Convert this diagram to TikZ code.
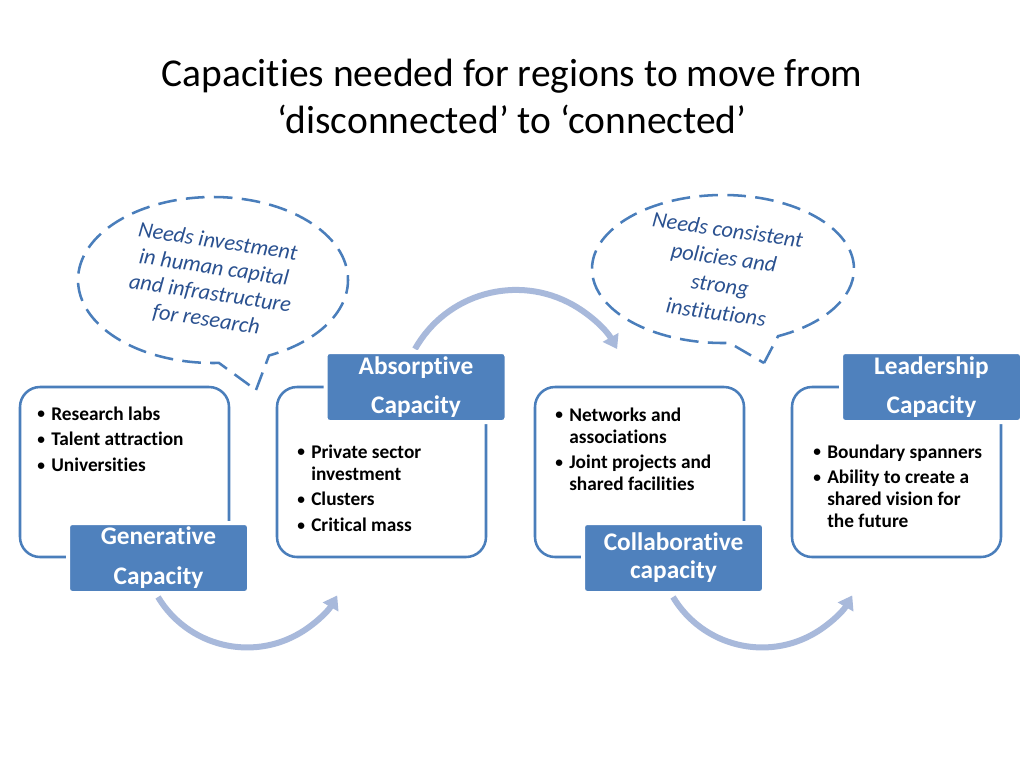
\documentclass[tikz,border=0pt]{standalone}
\usepackage{fontspec}
\setmainfont{Carlito}[Ligatures={NoCommon,NoContextual}]
\usetikzlibrary{shapes.callouts,arrows.meta}
\definecolor{accent}{HTML}{4F81BD}
\definecolor{boxline}{HTML}{4A7EBB}
\definecolor{arrowc}{HTML}{A8B9DB}
\definecolor{calltext}{HTML}{2A5190}
\newcommand\bl{\makebox[10.5pt][l]{\raisebox{0.9pt}{\fontsize{11.5}{11.5}\selectfont\textbullet}}}
\newcommand\ind{\hspace*{10.5pt}}
\begin{document}
\begin{tikzpicture}[x=0.75pt,y=-0.75pt,
  capbox/.style={draw=boxline, line width=1.9pt, rounded corners=15pt,
    minimum width=156.75pt, minimum height=127.5pt, inner sep=0pt},
  caplabel/.style={fill=accent, draw=white, line width=3pt, rounded corners=3pt,
    minimum width=135.75pt, minimum height=52.5pt, inner sep=0pt, text=white,
    align=center},
  listtext/.style={font=\bfseries\fontsize{14.5}{16.5}\selectfont, inner sep=0pt, anchor=base west},
  flow/.style={draw=arrowc, line width=4.5pt, -{Triangle[length=10pt,width=13pt]}},
  bubble/.style={ellipse callout, draw=boxline, line width=1.9pt, dash pattern=on 14pt off 7pt,
    callout pointer arc=22, inner sep=0pt},
  calltxt/.style={text=calltext, align=center, inner sep=0pt},
]
\useasboundingbox[fill=white] (0,0) rectangle (1024,768);

% title
\node[font=\fontsize{29.6}{35.25}\selectfont, align=center] (title) at (512,96.5)
  {Capacities needed for regions to move from\\‘disconnected’ to ‘connected’};

% callouts
\coordinate (p1) at (256,390);
\coordinate (p2) at (764,363);
\node[bubble, minimum width=202.5pt, minimum height=124.5pt, callout absolute pointer=(p1)] (c1) at (213,280) {};
\node[bubble, minimum width=196.5pt, minimum height=111pt, callout absolute pointer=(p2)] (c2) at (723,269) {};
\node[calltxt, rotate=-8.5, font=\itshape\fontsize{16.7}{19.7}\selectfont] (ct1) at (212,281)
  {Needs investment\\in human capital\\and infrastructure\\for research};
\node[calltxt, rotate=-8, font=\itshape\fontsize{16.7}{20.8}\selectfont] (ct2) at (722,271)
  {Needs consistent\\policies and\\strong\\institutions};

% arrows
\coordinate (a1s) at (158,597);
\coordinate (a2s) at (415,349);
\coordinate (a3s) at (673,597);
\draw[flow] (a1s) arc[start angle=149, end angle=30, radius=104];
\draw[flow] (a2s) arc[start angle=209.4, end angle=330.6, radius=116];
\draw[flow] (a3s) arc[start angle=149, end angle=30, radius=104];

% boxes
\node[capbox] (b1) at (124.5,472) {};
\node[capbox] (b2) at (381.5,472) {};
\node[capbox] (b3) at (639.5,472) {};
\node[capbox] (b4) at (896.5,472) {};

% labels
\node[caplabel, font=\bfseries\fontsize{19}{30}\selectfont] (l1) at (158.5,558) {Generative\\Capacity};
\node[caplabel, font=\bfseries\fontsize{19}{29.25}\selectfont] (l2) at (416,387) {Absorptive\\Capacity};
\node[caplabel, font=\bfseries\fontsize{19}{21}\selectfont] (l3) at (673.5,558) {Collaborative\\capacity};
\node[caplabel, font=\bfseries\fontsize{19}{29.25}\selectfont] (l4) at (931.5,387) {Leadership\\Capacity};

% lists
\node[listtext] (t1) at (37,420) {\begin{tabular}[t]{@{}l@{}}\bl Research labs\\[2.8pt]\bl Talent attraction\\[2.8pt]\bl Universities\end{tabular}};
\node[listtext] (t2) at (297,458) {\begin{tabular}[t]{@{}l@{}}\bl Private sector\\\ind investment\\[2.8pt]\bl Clusters\\[2.8pt]\bl Critical mass\end{tabular}};
\node[listtext] (t3) at (555,421) {\begin{tabular}[t]{@{}l@{}}\bl Networks and\\\ind associations\\[2.8pt]\bl Joint projects and\\\ind shared facilities\end{tabular}};
\node[listtext] (t4) at (813,458) {\begin{tabular}[t]{@{}l@{}}\bl Boundary spanners\\[2.8pt]\bl Ability to create a\\\ind shared vision for\\\ind the future\end{tabular}};
\end{tikzpicture}
\end{document}
